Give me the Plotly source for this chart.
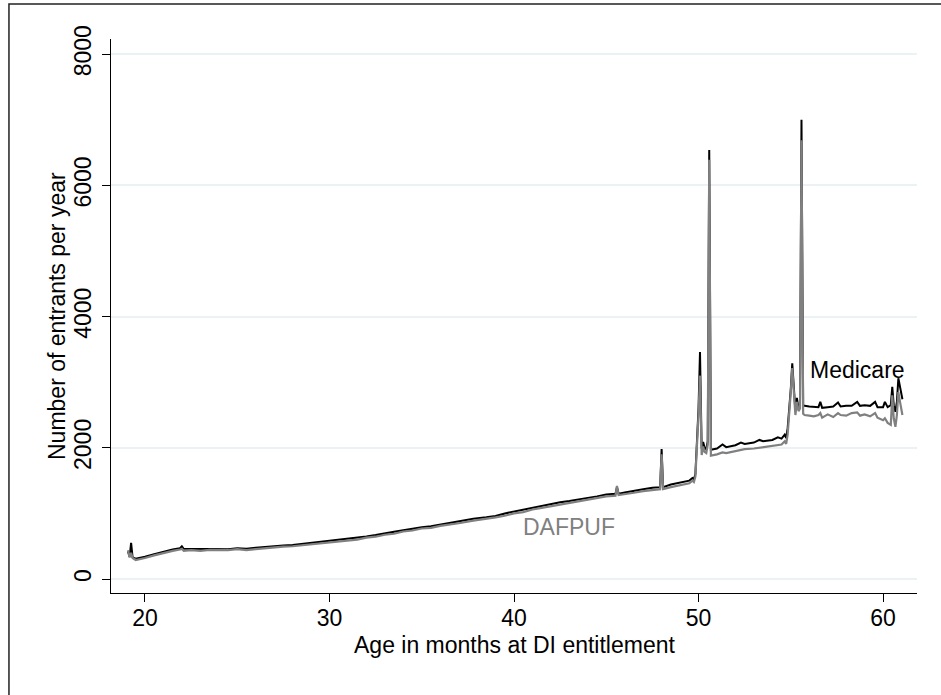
import plotly.graph_objects as go

# Age (x) at which values were read
age = [19.08, 19.17, 19.25, 19.33, 19.5, 19.75, 20.0, 20.5, 21.0, 21.5, 21.9, 22.0, 22.1,
       22.5, 23.0, 23.5, 24.0, 24.5, 25.0, 25.5, 26.0, 26.5, 27.0, 27.5, 28.0, 28.5, 29.0,
       29.5, 30.0, 30.5, 31.0, 31.5, 32.0, 32.5, 33.0, 33.5, 34.0, 34.5, 35.0, 35.5, 36.0,
       36.5, 37.0, 37.8, 38.5, 39.0, 39.5, 40.0, 40.5, 41.0, 41.5,
       42.0, 42.5, 43.0, 43.5, 44.0, 44.5, 45.0, 45.5, 45.58, 45.67, 46.0, 46.5, 47.0, 47.5,
       47.92, 48.0, 48.08, 48.5,
       49.0, 49.5, 49.67, 49.75, 49.83, 49.92, 50.0, 50.08, 50.17, 50.25, 50.33, 50.42,
       50.5, 50.58, 50.67, 51.0, 51.3, 51.5, 52.0, 52.3, 52.5, 53.0, 53.3, 53.5, 54.0, 54.3,
       54.5, 54.67, 54.75,
       54.83, 54.92, 55.0, 55.08, 55.17, 55.25, 55.33, 55.42, 55.5, 55.58, 55.67, 55.75,
       56.0, 56.25, 56.5, 56.6, 56.7, 57.0, 57.3, 57.56, 57.7, 58.0, 58.3, 58.6, 58.75,
       59.0, 59.3, 59.57, 59.7, 60.0, 60.1, 60.25, 60.42, 60.5, 60.58, 60.67, 60.75,
       60.83, 60.92, 61.05]

medicare = [420, 340, 550, 330, 310, 320, 340, 380, 420, 450, 470, 500, 460,
            460, 455, 460, 465, 455, 470, 460, 475, 490, 500, 510, 520, 535, 550,
            565, 580, 600, 610, 625, 650, 670, 700, 720, 745, 770, 790, 805, 830,
            855, 870, 920, 940, 960, 1000, 1030, 1050, 1090, 1120,
            1140, 1170, 1190, 1210, 1240, 1260, 1290, 1300, 1400, 1300, 1320, 1350, 1370, 1390,
            1400, 1980, 1400, 1440,
            1470, 1500, 1540, 1520, 1600, 2100, 2600, 3460, 1990, 2090, 2000, 1980,
            2100, 6540, 1970, 1990, 2050, 2010, 2040, 2080, 2060, 2080, 2120, 2100, 2120, 2160,
            2140, 2200, 2150,
            2300, 2600, 2900, 3290, 2850, 2560, 2760, 2600, 2650, 7000, 2650, 2640,
            2630, 2620, 2620, 2700, 2610, 2620, 2630, 2690, 2630, 2640, 2640, 2700, 2640,
            2650, 2640, 2700, 2620, 2620, 2700, 2620, 2650, 2930, 2650, 2550, 2700,
            3060, 2900, 2740]

dafpuf = [440, 330, 400, 320, 290, 300, 320, 360, 400, 430, 450, 460, 430,
          440, 430, 445, 440, 440, 455, 440, 455, 470, 485, 495, 500, 515, 530,
          545, 560, 570, 590, 600, 630, 645, 675, 690, 725, 740, 770, 780, 810,
          825, 850, 890, 915, 940, 965, 1000, 1020, 1060, 1085,
          1110, 1130, 1160, 1175, 1210, 1225, 1260, 1270, 1420, 1280, 1290, 1315, 1340, 1355,
          1370, 1900, 1370, 1400,
          1430, 1460, 1500, 1480, 1560, 2000, 2500, 3100, 1890, 2020, 1940, 1920,
          2050, 6390, 1880, 1900, 1930, 1920, 1950, 1960, 1980, 1990, 2000, 2010, 2030, 2040,
          2050, 2100, 2060,
          2200, 2500, 2850, 3215, 2800, 2500, 2700, 2560, 2600, 6690, 2520, 2500,
          2490, 2480, 2500, 2530, 2460, 2510, 2470, 2530, 2500, 2490, 2530, 2540, 2490,
          2510, 2480, 2530, 2460, 2420, 2450, 2380, 2350, 2800, 2450, 2320, 2500,
          2850, 2700, 2500]

y_ticks = [0, 2000, 4000, 6000, 8000]
x_ticks = [20, 30, 40, 50, 60]

FONT = "Liberation Sans, Arial, sans-serif"
FS = 23

fig = go.Figure()
fig.add_trace(go.Scatter(x=age, y=medicare, mode="lines", name="Medicare",
                         line=dict(color="#000000", width=2)))
fig.add_trace(go.Scatter(x=age, y=dafpuf, mode="lines", name="DAFPUF",
                         line=dict(color="#808080", width=2.2)))

fig.add_annotation(x=58.6, y=3190, text="Medicare", showarrow=False,
                   font=dict(family=FONT, size=FS, color="#000000"))
fig.add_annotation(x=43.0, y=790, text="DAFPUF", showarrow=False,
                   font=dict(family=FONT, size=FS, color="#808080"))

# axis titles
fig.add_annotation(xref="paper", yref="paper", x=-0.067, y=0.5, textangle=-90,
                   text="Number of entrants per year", showarrow=False,
                   xanchor="center", yanchor="middle",
                   font=dict(family=FONT, size=FS, color="#000000"))
fig.add_annotation(xref="paper", yref="paper", x=0.5, y=-0.0935,
                   text="Age in months at DI entitlement", showarrow=False,
                   xanchor="center", yanchor="middle",
                   font=dict(family=FONT, size=FS, color="#000000"))

# outer frame
fig.add_shape(type="rect", xref="paper", yref="paper",
              x0=-0.1266, x1=1.3, y0=-0.4, y1=1.063,
              line=dict(color="#222222", width=1.5), layer="below")

fig.update_layout(
    width=941, height=695,
    margin=dict(l=111, r=24, t=39, b=102),
    paper_bgcolor="white", plot_bgcolor="white",
    showlegend=False,
    font=dict(family=FONT, size=FS, color="#000000"),
    xaxis=dict(range=[18.16, 61.84], tickvals=x_ticks, showgrid=False, zeroline=False,
               showline=True, linecolor="#000000", linewidth=1.2,
               ticks="outside", ticklen=8, tickcolor="#000000", tickwidth=1.2,
               tickfont=dict(size=FS), ticklabelstandoff=-4),
    yaxis=dict(range=[-213, 8232], tickvals=y_ticks, showgrid=True, gridcolor="#eaf2f3",
               gridwidth=1.5, zeroline=False,
               showline=True, linecolor="#000000", linewidth=1.2,
               ticks="outside", ticklen=8, tickcolor="#000000", tickwidth=1.2,
               tickangle=-90, tickfont=dict(size=FS), ticklabelstandoff=2),
)

fig.write_html("out.html")
